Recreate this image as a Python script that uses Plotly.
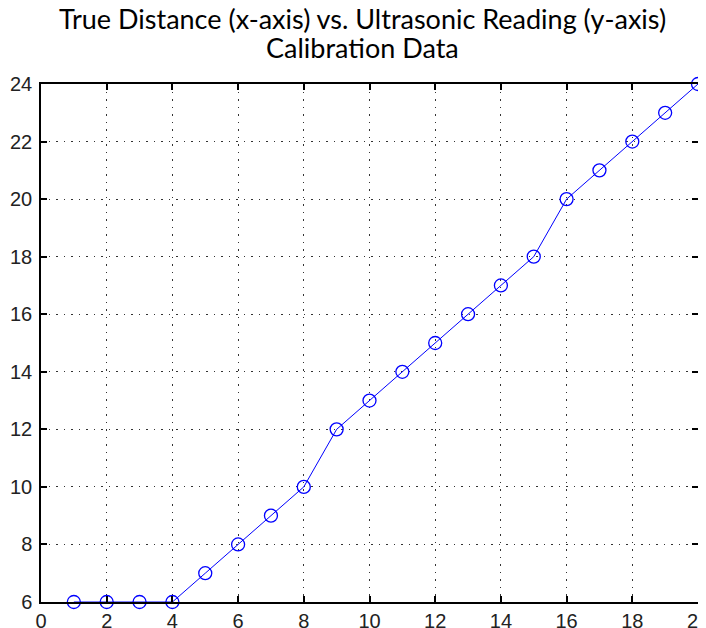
import plotly.graph_objects as go

true_distance = list(range(1, 21))
ultrasonic_reading = [6, 6, 6, 6, 7, 8, 9, 10, 12, 13, 14, 15, 16, 17, 18, 20, 21, 22, 23, 24]
x_ticks = list(range(0, 21, 2))
y_ticks = list(range(6, 25, 2))
title_lines = ["True Distance (x-axis) vs. Ultrasonic Reading (y-axis)", "Calibration Data"]

fig = go.Figure()
fig.add_trace(go.Scatter(
    x=true_distance, y=ultrasonic_reading, mode="lines+markers",
    line=dict(color="#0000ff", width=1),
    marker=dict(symbol="circle-open", size=13, color="#0000ff", line=dict(width=1.3)),
    cliponaxis=False,
))

axis_common = dict(
    showline=True, linecolor="black", linewidth=1.5, mirror="ticks",
    ticks="inside", ticklen=6, tickcolor="black", tickwidth=1.5,
    showgrid=True, gridcolor="#333333", gridwidth=1.3, griddash="1.5px,6px",
    zeroline=False, automargin=False,
    tickfont=dict(family="Liberation Sans, Arial, sans-serif", size=20, color="#222"),
)

# the page body adds an 8px offset, so margins are shifted to compensate
fig.update_layout(
    width=706, height=628,
    margin=dict(l=33, r=16, t=76, b=34),
    paper_bgcolor="white", plot_bgcolor="white",
    showlegend=False,
    xaxis=dict(range=[0, 20], tickvals=x_ticks, ticklabelstandoff=0, **axis_common),
    yaxis=dict(range=[6, 24], tickvals=y_ticks, ticklabelstandoff=3, **axis_common),
)

for text, ypos in zip(title_lines, [1.1255, 1.0714]):
    fig.add_annotation(
        text=text, xref="paper", yref="paper", x=0.49, y=ypos,
        xanchor="center", yanchor="middle", showarrow=False,
        font=dict(family="Lato, Open Sans, sans-serif", size=27, color="black"),
    )

fig.write_html("out.html")
